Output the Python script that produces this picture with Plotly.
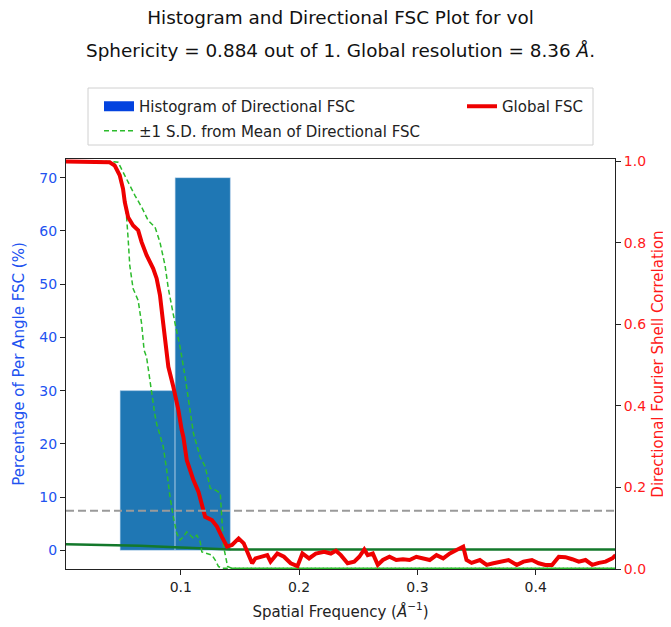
import plotly.graph_objects as go

# ---------------- data ----------------
hist_bin_edges = [0.0487, 0.0952, 0.1419]
hist_percent = [30, 70]

global_freq = [0.0025, 0.0399, 0.0442, 0.0484, 0.0512, 0.0527, 0.0555, 0.0597, 0.0640, 0.0669,
               0.0711, 0.0767, 0.0796, 0.0824, 0.0852, 0.0881, 0.0895, 0.0937, 0.0980, 0.1008,
               0.1022, 0.1051, 0.1107, 0.1150, 0.1178, 0.1206, 0.1263, 0.1306, 0.1348, 0.1391,
               0.1433, 0.1489, 0.1532, 0.1574, 0.1603, 0.1631, 0.1688, 0.1731, 0.1759, 0.1816,
               0.1872, 0.1929, 0.1986, 0.2028, 0.2084, 0.2141, 0.2212, 0.2268, 0.2311, 0.2353,
               0.2410, 0.2466, 0.2509, 0.2551, 0.2580, 0.2623, 0.2665, 0.2708, 0.2764, 0.2821,
               0.2878, 0.2934, 0.2991, 0.3048, 0.3104, 0.3161, 0.3218, 0.3274, 0.3345, 0.3387,
               0.3415, 0.3458, 0.3528, 0.3585, 0.3642, 0.3713, 0.3770, 0.3840, 0.3897, 0.3968,
               0.4025, 0.4081, 0.4138, 0.4195, 0.4251, 0.4308, 0.4364, 0.4421, 0.4478, 0.4534,
               0.4590, 0.4647, 0.4675]
global_fsc = [1.000, 0.998, 0.990, 0.966, 0.933, 0.900, 0.863, 0.843, 0.831, 0.802,
              0.770, 0.737, 0.713, 0.672, 0.602, 0.537, 0.496, 0.447, 0.390, 0.341,
              0.324, 0.267, 0.218, 0.189, 0.161, 0.128, 0.120, 0.104, 0.079, 0.055,
              0.059, 0.075, 0.063, 0.030, 0.014, 0.026, 0.030, 0.034, 0.018, 0.038,
              0.030, 0.014, 0.007, 0.038, 0.026, 0.038, 0.042, 0.038, 0.045, 0.034,
              0.014, 0.018, 0.030, 0.048, 0.034, 0.038, 0.010, 0.022, 0.030, 0.022,
              0.024, 0.022, 0.030, 0.026, 0.022, 0.034, 0.026, 0.038, 0.048, 0.055,
              0.022, 0.015, 0.022, 0.010, 0.014, 0.018, 0.022, 0.010, 0.018, 0.022,
              0.014, 0.010, 0.010, 0.030, 0.029, 0.024, 0.018, 0.022, 0.010, 0.015,
              0.018, 0.026, 0.034]

upper_sd_freq = [0.0025, 0.0399, 0.0470, 0.0512, 0.0555, 0.0612, 0.0669, 0.0725, 0.0782, 0.0824,
                 0.0867, 0.0895, 0.0952, 0.0994, 0.1037, 0.1079, 0.1107, 0.1164, 0.1206, 0.1234,
                 0.1249, 0.1291, 0.1334, 0.1348, 0.1362, 0.1396, 0.1430, 0.4675]
upper_sd_fsc = [1.000, 1.000, 0.998, 0.974, 0.949, 0.917, 0.888, 0.855, 0.839, 0.802,
                0.745, 0.688, 0.602, 0.545, 0.471, 0.390, 0.333, 0.275, 0.251, 0.218,
                0.198, 0.194, 0.186, 0.120, 0.055, 0.006, 0.002, 0.002]

lower_sd_freq = [0.0025, 0.0371, 0.0442, 0.0484, 0.0512, 0.0541, 0.0555, 0.0569, 0.0597, 0.0640,
                 0.0669, 0.0690, 0.0711, 0.0748, 0.0782, 0.0796, 0.0852, 0.0881, 0.0909, 0.0937,
                 0.0966, 0.0994, 0.1022, 0.1051, 0.1079, 0.1107, 0.1136, 0.1164, 0.1178, 0.1221,
                 0.1263, 0.1291, 0.1319, 0.1350, 0.4675]
lower_sd_fsc = [1.000, 1.000, 0.994, 0.966, 0.933, 0.868, 0.811, 0.745, 0.688, 0.659,
                0.602, 0.537, 0.520, 0.439, 0.377, 0.357, 0.300, 0.243, 0.177, 0.128,
                0.0875, 0.071, 0.079, 0.091, 0.083, 0.075, 0.083, 0.067, 0.042, 0.038,
                0.034, 0.022, 0.006, 0.002, 0.002]

threshold_freq = [0.0025, 0.0654, 0.1000, 0.1164, 0.1420, 0.4675]
threshold_fsc = [0.0605, 0.057, 0.053, 0.051, 0.048, 0.048]

fsc_cutoff = 0.143

x_ticks = [0.1, 0.2, 0.3, 0.4]
left_ticks = [0, 10, 20, 30, 40, 50, 60, 70]
right_ticks = [0.0, 0.2, 0.4, 0.6, 0.8, 1.0]

title_line1 = "Histogram and Directional FSC Plot for vol"
title_line2 = "Sphericity = 0.884 out of 1. Global resolution = 8.36 <i>Å</i>."

# ---------------- figure ----------------
FONT = "DejaVu Sans"
BLUE_TXT = "#2152f0"
RED_TXT = "#ff1a1a"

hist_centers = [(a + b) / 2 for a, b in zip(hist_bin_edges[:-1], hist_bin_edges[1:])]
hist_widths = [b - a for a, b in zip(hist_bin_edges[:-1], hist_bin_edges[1:])]

# the page body adds an 8px offset; the figure is sized so that it ends at the window edge
OFF = 8
W, H = 671 - OFF, 627 - OFF
L, R, T, B = 66 - OFF, 56, 159 - OFF, 58
pw, ph = W - L - R, H - T - B


def px_x(px):
    """window pixel x -> paper fraction"""
    return (px - OFF - L) / pw


def px_y(py):
    """window pixel y -> paper fraction"""
    return (H - B - (py - OFF)) / ph


fig = go.Figure()

fig.add_trace(go.Bar(
    x=hist_centers, y=hist_percent, width=hist_widths, yaxis="y",
    marker=dict(color="#1f77b4", line=dict(color="rgba(200,220,240,0.6)", width=1)),
    showlegend=False, hoverinfo="skip"))
# legend swatch for the histogram (wide filled rectangle)
fig.add_trace(go.Scatter(
    x=[None], y=[None], yaxis="y", mode="lines", name="Histogram of Directional FSC",
    line=dict(color="#0343df", width=13), legend="legend", legendgroup="h"))

fig.add_trace(go.Scatter(
    x=threshold_freq, y=threshold_fsc, yaxis="y2", mode="lines",
    line=dict(color="#13782b", width=2.5), showlegend=False))

fig.add_trace(go.Scatter(
    x=upper_sd_freq, y=upper_sd_fsc, yaxis="y2", mode="lines",
    line=dict(color="#2cbb2c", width=1.5, dash="5px,3px"),
    name="±1 S.D. from Mean of Directional FSC", legend="legend", legendgroup="sd"))
fig.add_trace(go.Scatter(
    x=lower_sd_freq, y=lower_sd_fsc, yaxis="y2", mode="lines",
    line=dict(color="#2cbb2c", width=1.5, dash="5px,3px"),
    showlegend=False, legendgroup="sd"))

fig.add_trace(go.Scatter(
    x=global_freq, y=global_fsc, yaxis="y2", mode="lines",
    line=dict(color="#ee0000", width=4),
    name="Global FSC", legend="legend2"))

fig.add_shape(type="line", xref="x domain", yref="y2", x0=0, x1=1,
              y0=fsc_cutoff, y1=fsc_cutoff,
              line=dict(color="#9a9a9a", width=2, dash="8px,4px"), layer="above")

# legend frame
fig.add_shape(type="rect", xref="paper", yref="paper",
              x0=px_x(88), x1=px_x(593), y0=px_y(145), y1=px_y(88),
              line=dict(color="#d0d0d0", width=1), fillcolor="rgba(255,255,255,0)")

fig.add_annotation(text=title_line2, xref="paper", yref="paper", x=0.5, y=px_y(50),
                   xanchor="center", yanchor="middle", showarrow=False,
                   font=dict(family=FONT, size=18.4, color="#111"))

axis_common = dict(showline=True, linecolor="#222", linewidth=1, ticks="outside",
                   ticklen=5, tickcolor="#222", showgrid=False, zeroline=False,
                   automargin=False)

fig.update_layout(
    width=W, height=H,
    margin=dict(l=L, r=R, t=T, b=B, pad=0, autoexpand=False),
    paper_bgcolor="white", plot_bgcolor="white",
    font=dict(family=FONT, size=14, color="#222"),
    barmode="overlay",
    title=dict(text=title_line1, x=0.5, xref="paper", xanchor="center",
               y=1 - (18 - OFF) / H, yref="container", yanchor="middle",
               font=dict(family=FONT, size=18.4, color="#111")),
    xaxis=dict(range=[0.003, 0.467], tickvals=x_ticks, ticktext=[str(v) for v in x_ticks],
               mirror=True, tickfont=dict(size=14, color="#222"),
               title=dict(text="Spatial Frequency (<i>Å</i><sup>−1</sup>)",
                          font=dict(size=15, color="#222"), standoff=12),
               **axis_common),
    yaxis=dict(range=[-3.5, 73.5], tickvals=left_ticks, mirror=True,
               tickfont=dict(size=14, color=BLUE_TXT),
               title=dict(text="Percentage of Per Angle FSC (%)",
                          font=dict(size=15, color=BLUE_TXT), standoff=11),
               **axis_common),
    yaxis2=dict(range=[0, 1.006], tickvals=right_ticks, tickformat=".1f",
                overlaying="y", side="right",
                tickfont=dict(size=14, color=RED_TXT),
                title=dict(text="Directional Fourier Shell Correlation",
                           font=dict(size=15, color=RED_TXT), standoff=7),
                **axis_common),
    legend=dict(x=px_x(99), y=px_y(90), xanchor="left", yanchor="top",
                orientation="v", bgcolor="rgba(0,0,0,0)", borderwidth=0,
                traceorder="grouped", tracegroupgap=2,
                font=dict(family=FONT, size=15, color="#222")),
    legend2=dict(x=px_x(462), y=px_y(90), xanchor="left", yanchor="top",
                 orientation="v", bgcolor="rgba(0,0,0,0)", borderwidth=0,
                 font=dict(family=FONT, size=15, color="#222")),
)

fig.write_html("out.html")
